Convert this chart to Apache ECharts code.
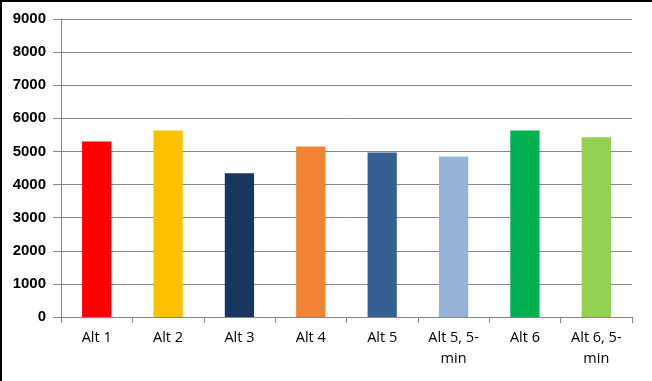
<!DOCTYPE html>
<html><head><meta charset="utf-8">
<script src="https://cdn.jsdelivr.net/npm/echarts@6/dist/echarts.min.js"></script>
<style>html,body{margin:0;padding:0;background:#fff;}#c{width:652px;height:381px;}
#frame{position:absolute;left:0;top:0;width:652px;height:381px;border-top:2px solid #000;border-left:2px solid #000;box-sizing:border-box;pointer-events:none;}</style>
</head><body><div id="c"></div><div id="frame"></div>
<script>
const categories = ["Alt 1","Alt 2","Alt 3","Alt 4","Alt 5","Alt 5, 5-\nmin","Alt 6","Alt 6, 5-\nmin"];
const values = [5300, 5630, 4340, 5150, 4970, 4850, 5630, 5430];
const colors = ["#FF0000","#FFC000","#17375E","#F08434","#376092","#95B3D7","#00B050","#92D050"];
const yTicks = [0,1000,2000,3000,4000,5000,6000,7000,8000,9000];

const chart = echarts.init(document.getElementById('c'), null, {renderer:'canvas'});
chart.setOption({
  animation:false,
  backgroundColor:'#fff',
  grid:{left:61,right:20,top:19,bottom:64,containLabel:false},
  xAxis:{type:'category',data:categories,
    axisLine:{lineStyle:{color:'#868686',width:1}},
    axisTick:{show:true,length:6,alignWithLabel:false,lineStyle:{color:'#868686'}},
    axisLabel:{color:'#000',fontFamily:'Open Sans, Liberation Sans, sans-serif',fontSize:14.5,margin:10,lineHeight:21,interval:0}},
  yAxis:{type:'value',min:yTicks[0],max:yTicks[yTicks.length-1],interval:1000,
    axisLine:{show:true,lineStyle:{color:'#868686'}},
    axisTick:{show:true,length:8,lineStyle:{color:'#868686'}},
    splitLine:{lineStyle:{color:'#868686',width:1}},
    axisLabel:{color:'#000',fontFamily:'Liberation Sans, sans-serif',fontSize:15,fontWeight:'bold',margin:15,
      formatter:v=>String(v)}},
  series:[{type:'bar',barWidth:'41%',
    data:values.map((v,i)=>({value:v,itemStyle:{color:colors[i]}}))}]
});
</script></body></html>
